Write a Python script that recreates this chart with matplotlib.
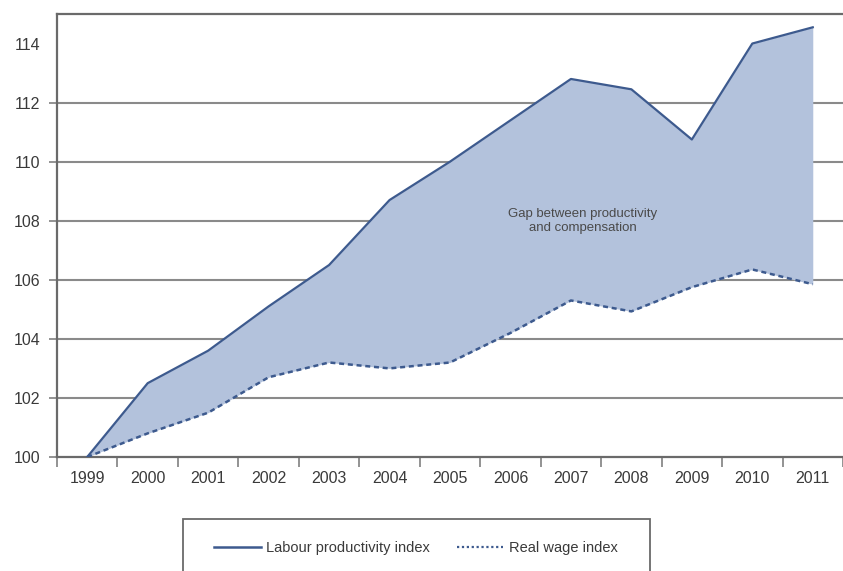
import matplotlib.pyplot as plt
from matplotlib.patches import Rectangle
from matplotlib.lines import Line2D
import numpy as np

plt.rcParams['font.family'] = ['Liberation Sans Narrow', 'Liberation Sans', 'DejaVu Sans']

years = ['1999', '2000', '2001', '2002', '2003', '2004', '2005',
         '2006', '2007', '2008', '2009', '2010', '2011']
productivity = [100.0, 102.5, 103.6, 105.1, 106.5, 108.7, 110.0,
                111.4, 112.8, 112.45, 110.75, 114.0, 114.55]
real_wage = [100.0, 100.8, 101.5, 102.7, 103.2, 103.0, 103.2,
             104.2, 105.3, 104.93, 105.75, 106.35, 105.85]
yticks = [100, 102, 104, 106, 108, 110, 112, 114]

line_col = '#3d5a8e'
fill_col = '#b3c2dc'
grid_col = '#8a8a8a'
text_col = '#3a3a3a'

fig = plt.figure(figsize=(8.43, 5.71), dpi=100)
ax = fig.add_axes([57 / 843, 114 / 571, 1 - 57 / 843, 443 / 571])

x = np.arange(len(years))
ax.fill_between(x, real_wage, productivity, color=fill_col, zorder=2, linewidth=0)
ax.plot(x, productivity, color=line_col, lw=1.6, zorder=3)
ax.plot(x, real_wage, color=line_col, lw=1.8, ls=(0, (2, 1.5)), zorder=3)

ax.set_xlim(-0.5, len(years) - 0.5)
ax.set_ylim(100, 115)

# horizontal rules every 2 points (none at 114)
for v in yticks[1:-1]:
    ax.axhline(v, color=grid_col, lw=1.5, zorder=1)

ax.set_yticks(yticks)
ax.set_yticklabels([str(v) for v in yticks])
ax.set_xticks(x)
ax.set_xticklabels(years)
ax.set_xticks(np.arange(-0.5, len(years), 1), minor=True)
ax.tick_params(axis='x', which='major', length=0, pad=10, labelsize=11.5, labelcolor=text_col)
ax.tick_params(axis='x', which='minor', length=7, width=1.3, color=grid_col)
ax.tick_params(axis='y', length=6, width=1.3, color=grid_col, pad=6, labelsize=11.5, labelcolor=text_col)
# no tick mark at the 114 label
ax.yaxis.get_major_ticks()[-1].tick1line.set_visible(False)

for side in ['left', 'bottom', 'top']:
    ax.spines[side].set_color('#6a6a6a')
    ax.spines[side].set_linewidth(1.6)
ax.spines['right'].set_visible(False)

ax.text(8.2, 108.0, 'Gap between productivity\nand compensation', ha='center', va='center',
        fontsize=9.5, color='#4a4a4a', linespacing=1.2, zorder=4)

# legend box running off the bottom of the figure
fig.patches.append(Rectangle((183 / 843, -0.05), (650 - 183) / 843, 0.05 + 52 / 571,
                             transform=fig.transFigure, fill=False,
                             edgecolor='#6a6a6a', linewidth=1.3))
handles = [Line2D([], [], color=line_col, lw=1.8),
           Line2D([], [], color=line_col, lw=1.6, ls=(0, (1, 1.2)))]
fig.legend(handles, ['Labour productivity index', 'Real wage index'],
           loc='center', bbox_to_anchor=(416 / 843, 1 - 548 / 571), ncol=2,
           frameon=False, fontsize=10.5, handlelength=3.2, handletextpad=0.4,
           columnspacing=1.8, labelcolor=text_col)

fig.savefig('out.png', dpi=100)
